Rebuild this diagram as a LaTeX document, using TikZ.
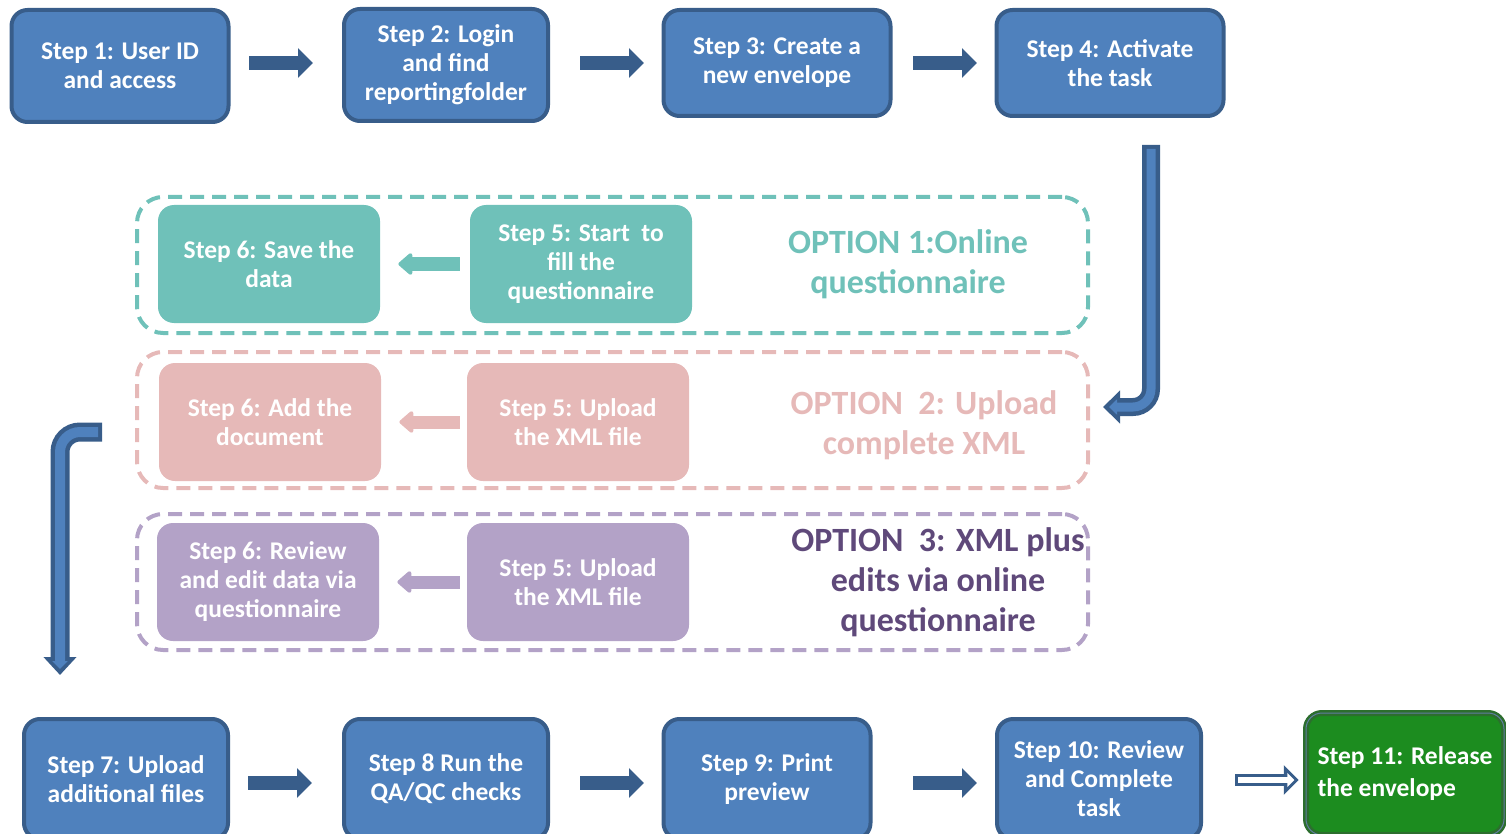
\documentclass[tikz,border=0pt]{standalone}
\usepackage{fontspec}
\setmainfont{Carlito}
\usetikzlibrary{arrows.meta}

\definecolor{stepblue}{HTML}{4F81BD}
\definecolor{stepedge}{HTML}{385D8A}
\definecolor{optteal}{HTML}{6FC1B9}
\definecolor{optpink}{HTML}{E6B9B8}
\definecolor{optlilac}{HTML}{B3A2C7}
\definecolor{optpurple}{HTML}{5F497A}
\definecolor{donegreen}{HTML}{1C8C1F}
\definecolor{doneedge}{HTML}{2C6E2E}

\begin{document}
\begin{tikzpicture}[x=1pt,y=-1pt,>=latex,thick,
  every node/.style={font=\fontsize{25.5}{29}\selectfont\bfseries,text=white,align=center},
  stepbox/.style={draw=stepedge,line width=4pt,fill=stepblue,rounded corners=16pt,minimum height=112pt},
  subbox/.style={fill=#1,rounded corners=16pt,minimum width=222pt,minimum height=118pt},
  optframe/.style={draw=#1,line width=4pt,dash pattern=on 14pt off 8pt,rounded corners=26pt,minimum width=951pt,minimum height=136pt},
  optlabel/.style={text=#1,font=\fontsize{34}{40}\selectfont\bfseries},
  flowarrow/.style 2 args={draw=stepedge,line width=14pt,-{Triangle[length=15pt,width=29pt]},shorten <=#1,shorten >=#2},
  backarrow/.style 2 args={draw=#1,line width=13pt,-{Triangle[length=15pt,width=25pt,round]},shorten <=#2,shorten >=18pt}]
  \useasboundingbox (0,0) rectangle (1506,834);

  % Nodes
  \node[stepbox,minimum width=217pt] (s1) at (120,66) {Step 1: User ID\\and access};
  \node[stepbox,minimum width=204pt] (s2) at (446,65) {Step 2: Login\\and find\\reportingfolder};
  \node[stepbox,minimum width=227pt,minimum height=106pt] (s3) at (777,63) {Step 3: Create a\\new envelope};
  \node[stepbox,minimum width=227pt,minimum height=106pt] (s4) at (1110,63) {Step 4: Activate\\the task};

  \node[optframe=optteal] (opt1) at (612.5,265) {};
  \node[optframe=optpink] (opt2) at (612.5,420) {};
  \node[optframe=optlilac] (opt3) at (612.5,582) {};

  \node[subbox=optteal] (o1s6) at (269,264) {Step 6: Save the\\data};
  \node[subbox=optteal] (o1s5) at (581,264) {Step 5: Start\ \ to\\fill the\\questionnaire};
  \node[optlabel=optteal] (o1lbl) at (908,264) {OPTION 1:Online\\questionnaire};

  \node[subbox=optpink] (o2s6) at (270,422) {Step 6: Add the\\document};
  \node[subbox=optpink] (o2s5) at (578,422) {Step 5: Upload\\the XML file};
  \node[optlabel=optpink] (o2lbl) at (924,425) {OPTION\ \ 2: Upload\\complete XML};

  \node[subbox=optlilac] (o3s6) at (268,582) {Step 6: Review\\and edit data via\\questionnaire};
  \node[subbox=optlilac] (o3s5) at (578,582) {Step 5: Upload\\the XML file};
  \node[optlabel=optpurple] (o3lbl) at (938,582) {OPTION\ \ 3: XML plus\\edits via online\\questionnaire};

  \node[stepbox,minimum width=204pt,minimum height=120pt] (s7) at (126,779) {Step 7: Upload\\additional files};
  \node[stepbox,minimum width=204pt,minimum height=120pt] (s8) at (446,779) {Step 8 Run the\\QA/QC checks};
  \node[stepbox,minimum width=207pt,minimum height=120pt] (s9) at (767,779) {Step 9: Print\\preview};
  \node[stepbox,minimum width=204pt,minimum height=120pt] (s10) at (1099,779) {Step 10: Review\\and Complete\\task};
  \node[stepbox,draw=doneedge,fill=donegreen,line width=2.5pt,double=stepedge!80,double distance=1pt,
        minimum width=198pt,minimum height=122pt,align=left,font=\fontsize{25.5}{32}\selectfont\bfseries] (s11) at (1405,774) {Step 11: Release\\the envelope};

  \coordinate (down-start) at (1151,145);
  \coordinate (down-end) at (1103,407);
  \coordinate (back-start) at (102,432);
  \coordinate (back-end) at (60,675);

  % Arrows
  \draw[flowarrow={18.5pt}{29pt}] (s1.east |- 0,63) -- (s2.west |- 0,63);
  \draw[flowarrow={30pt}{17.5pt}] (s2.east |- 0,63) -- (s3.west |- 0,63);
  \draw[flowarrow={20.5pt}{17.5pt}] (s3) -- (s4);

  \draw[line width=18pt,draw=stepedge,rounded corners=18pt,-{Triangle[length=17pt,width=32pt]}]
    (down-start) -- (1151,407) -- (down-end);
  \draw[line width=9pt,draw=stepblue,rounded corners=18pt,shorten <=4pt,shorten >=6pt,-{Triangle[length=8pt,width=15pt]}]
    (down-start) -- (1151,407) -- (down-end);

  \draw[backarrow={optteal}{10pt}] (o1s5) -- (o1s6);
  \draw[backarrow={optpink}{7pt}] (o2s5) -- (o2s6);
  \draw[backarrow={optlilac}{7pt}] (o3s5) -- (o3s6);

  \draw[line width=19pt,draw=stepedge,rounded corners=20pt,-{Triangle[length=18pt,width=32pt]}]
    (back-start) -- (60,432) -- (back-end);
  \draw[line width=10pt,draw=stepblue,rounded corners=20pt,shorten <=4pt,shorten >=6pt,-{Triangle[length=8pt,width=15pt]}]
    (back-start) -- (60,432) -- (back-end);

  \draw[flowarrow={18pt}{30pt}] (s7.east |- 0,783) -- (s8.west |- 0,783);
  \draw[flowarrow={30pt}{17.5pt}] (s8.east |- 0,783) -- (s9.west |- 0,783);
  \draw[flowarrow={40.5pt}{18pt}] (s9.east |- 0,783) -- (s10.west |- 0,783);
  \draw[draw=stepedge,line width=12pt,-{Triangle[length=15pt,width=29pt]},shorten <=32pt,shorten >=6pt] (s10.east |- 0,780) -- (s11.west |- 0,780);
  \draw[draw=white,line width=5.5pt,-{Triangle[length=7pt,width=14pt]},shorten <=35pt,shorten >=10.5pt] (s10.east |- 0,780) -- (s11.west |- 0,780);
\end{tikzpicture}
\end{document}
